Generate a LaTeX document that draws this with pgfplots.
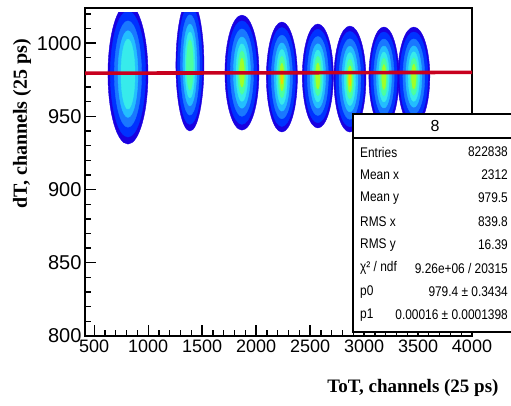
\documentclass[border=0pt]{standalone}
\usepackage{pgfplots}
\pgfplotsset{compat=1.18}
\usepackage{pgfplotstable}
\usepackage{fontspec}
\setmainfont{Liberation Sans}
\newfontfamily\serifbf{Liberation Serif}[BoldFont={Liberation Serif Bold}]

\definecolor{b1}{RGB}{25,0,225}
\definecolor{b2}{RGB}{0,50,255}
\definecolor{b3}{RGB}{25,120,255}
\definecolor{b4}{RGB}{35,190,255}
\definecolor{b5}{RGB}{55,235,235}
\definecolor{b6}{RGB}{75,255,160}
\definecolor{b7}{RGB}{160,255,40}
\definecolor{b8}{RGB}{240,215,0}
\definecolor{fitred}{RGB}{200,0,30}

% blob centres (data units), half-width / half-height (pt), highest colour level
\pgfplotstableread{
x    y     w    h    lev
813  978.8 20   70   5
1387 985.0 14   66   6
1869 979.8 17   57.5 7
2239 976.8 15.5 55   8
2572 977.5 15.5 52   7
2869 975.4 16   53   8
3184 976.8 15   50   7
3461 977.1 16   49.5 7
}\blobs

\newcommand\bloblevel[4]{%
  \addplot[scatter, only marks, mark=*, mark size=1pt,
    scatter/use mapped color={draw=#2,fill=#2},
    x filter/.expression={\thisrow{lev}<#1 ? nan : x},
    visualization depends on={\thisrow{w}*#3 \as \bw},
    visualization depends on={\thisrow{h}*#4 \as \bh},
    scatter/@pre marker code/.append style={/tikz/xscale=\bw,/tikz/yscale=\bh}]
    table[x=x,y=y] {\blobs};
}

\begin{document}
\begin{tikzpicture}
\path[use as bounding box] (0,0) rectangle (511pt,405pt);

% histogram blobs (clipped at the histogram range top)
\begin{axis}[at={(85pt,69pt)}, anchor=south west, scale only axis,
  width=387pt, height=323pt, xmin=415, xmax=4000, ymin=800, ymax=1020.5,
  hide axis, clip marker paths=true]
  \bloblevel{1}{b1}{1.00}{1.00}
  \bloblevel{2}{b2}{0.88}{0.90}
  \bloblevel{3}{b3}{0.68}{0.76}
  \bloblevel{4}{b4}{0.50}{0.62}
  \bloblevel{5}{b5}{0.35}{0.50}
  \bloblevel{6}{b6}{0.24}{0.38}
  \bloblevel{7}{b7}{0.14}{0.25}
  \bloblevel{8}{b8}{0.07}{0.13}
\end{axis}

% frame, ticks and fit line
\begin{axis}[at={(85pt,69pt)}, anchor=south west, scale only axis,
  width=387pt, height=328pt, xmin=415, xmax=4000, ymin=800, ymax=1024,
  xtick={500,1000,...,4000}, ytick={800,850,...,1000},
  minor xtick={500,600,...,4000}, minor ytick={800,810,...,1020},
  tick align=inside, xtick pos=bottom, ytick pos=left,
  axis line style={line width=1.6pt},
  major tick length=11pt, minor tick length=6pt,
  every tick/.style={black, line width=1.3pt},
  xticklabel style={font=\fontsize{18}{18}\selectfont},
  yticklabel style={font=\fontsize{20}{20}\selectfont},
  /pgf/number format/assume math mode=true,
  /pgf/number format/1000 sep={}, scaled ticks=false]
  \addplot[color=fitred, line width=3.6pt] coordinates {(415,979.47) (4000,980.04)};
\end{axis}

% axis titles
\node[font=\serifbf\bfseries\fontsize{19}{19}\selectfont] at (413pt,17pt) {ToT, channels (25 ps)};
\node[font=\serifbf\bfseries\fontsize{20}{20}\selectfont, rotate=90] at (22pt,281pt) {dT, channels (25 ps)};

% statistics box
\draw[line width=1.5pt, fill=white] (353pt,73pt) rectangle (517pt,291pt);
\draw[line width=1.2pt] (353pt,267pt) -- (517pt,267pt);
\node[font=\fontsize{16}{16}\selectfont] at (435pt,279pt) {8};
\begin{scope}[every node/.style={font=\fontsize{14}{14}\selectfont, xscale=0.85, inner sep=0pt}]
\node[anchor=west] at (360pt,253pt) {Entries};
\node[anchor=west] at (360pt,230pt) {Mean x};
\node[anchor=west] at (360pt,207pt) {Mean y};
\node[anchor=west] at (360pt,183pt) {RMS x};
\node[anchor=west] at (360pt,160pt) {RMS y};
\node[anchor=west] at (360pt,137pt) {χ² / ndf};
\node[anchor=west] at (360pt,113pt) {p0};
\node[anchor=west] at (360pt,90pt) {p1};
\node[anchor=east] at (508pt,253pt) {822838};
\node[anchor=east] at (508pt,230pt) {2312};
\node[anchor=east] at (508pt,207pt) {979.5};
\node[anchor=east] at (508pt,183pt) {839.8};
\node[anchor=east] at (508pt,160pt) {16.39};
\node[anchor=east] at (508pt,137pt) {9.26e+06 / 20315};
\node[anchor=east] at (508pt,113pt) {979.4 ± 0.3434};
\node[anchor=east] at (508pt,90pt) {0.00016 ± 0.0001398};
\end{scope}
\end{tikzpicture}
\end{document}
